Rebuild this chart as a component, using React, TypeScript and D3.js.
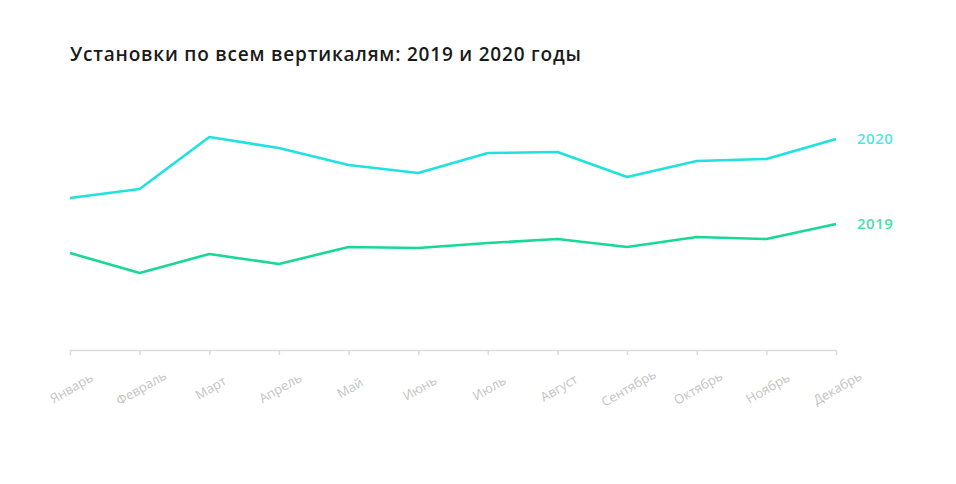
import React, { useEffect, useRef } from "react";
import { select, scalePoint, scaleLinear, axisBottom, line } from "d3";

const months = [
  "Январь", "Февраль", "Март", "Апрель", "Май", "Июнь",
  "Июль", "Август", "Сентябрь", "Октябрь", "Ноябрь", "Декабрь",
];
const values2020 = [152, 161, 213, 202, 185, 177, 197, 198, 173, 189, 191, 211];
const values2019 = [97, 77, 96, 86, 103, 102, 107, 111, 103, 113, 111, 126];

const title = "Установки по всем вертикалям: 2019 и 2020 годы";

const App = () => {
  const ref = useRef<SVGSVGElement>(null);

  useEffect(() => {
    if (!ref.current) return;
    const svg = select(ref.current);
    svg.selectAll("*").remove();

    const font = "'Open Sans', 'Noto Sans', sans-serif";

    // заголовок
    svg
      .append("text")
      .attr("x", 62)
      .attr("y", 53)
      .attr("font-family", font)
      .attr("font-size", 19)
      .attr("font-weight", 600)
      .attr("letter-spacing", 0.8)
      .attr("fill", "#1a1a1a")
      .text(title);

    const x = scalePoint<string>().domain(months).range([62, 828]);
    const y = scaleLinear().domain([0, 220]).range([342, 122]);

    const xAxis = svg
      .append("g")
      .attr("transform", "translate(0,342)")
      .call(axisBottom(x).tickSize(5).tickSizeOuter(0));
    xAxis.select(".domain").attr("stroke", "#dcdcdc").attr("stroke-width", 1.5);
    xAxis.selectAll(".tick line").attr("stroke", "#dcdcdc").attr("stroke-width", 1.5);
    xAxis
      .selectAll(".tick text")
      .attr("font-family", font)
      .attr("font-size", 13)
      .attr("fill", "#c4c4c4")
      .attr("text-anchor", "middle")
      .attr("y", 0)
      .attr("dy", "0.35em")
      .attr("transform", "translate(1,38) rotate(-30)");

    const series = [
      { name: "2020", values: values2020, color: "#1fe2de" },
      { name: "2019", values: values2019, color: "#17d894" },
    ];

    const gen = line<number>()
      .x((_, i) => x(months[i])!)
      .y((d) => y(d));

    series.forEach((s) => {
      svg
        .append("path")
        .datum(s.values)
        .attr("fill", "none")
        .attr("stroke", s.color)
        .attr("stroke-width", 2.6)
        .attr("stroke-linejoin", "round")
        .attr("d", gen);

      svg
        .append("text")
        .attr("x", x(months[months.length - 1])! + 21)
        .attr("y", y(s.values[s.values.length - 1]) + 5)
        .attr("font-family", font)
        .attr("font-size", 15)
        .attr("font-weight", 600)
        .attr("letter-spacing", 0.5)
        .attr("fill", s.color)
        .attr("opacity", 0.8)
        .text(s.name);
    });
  }, []);

  return <svg ref={ref} width={940} height={468}></svg>;
};

export default App;
